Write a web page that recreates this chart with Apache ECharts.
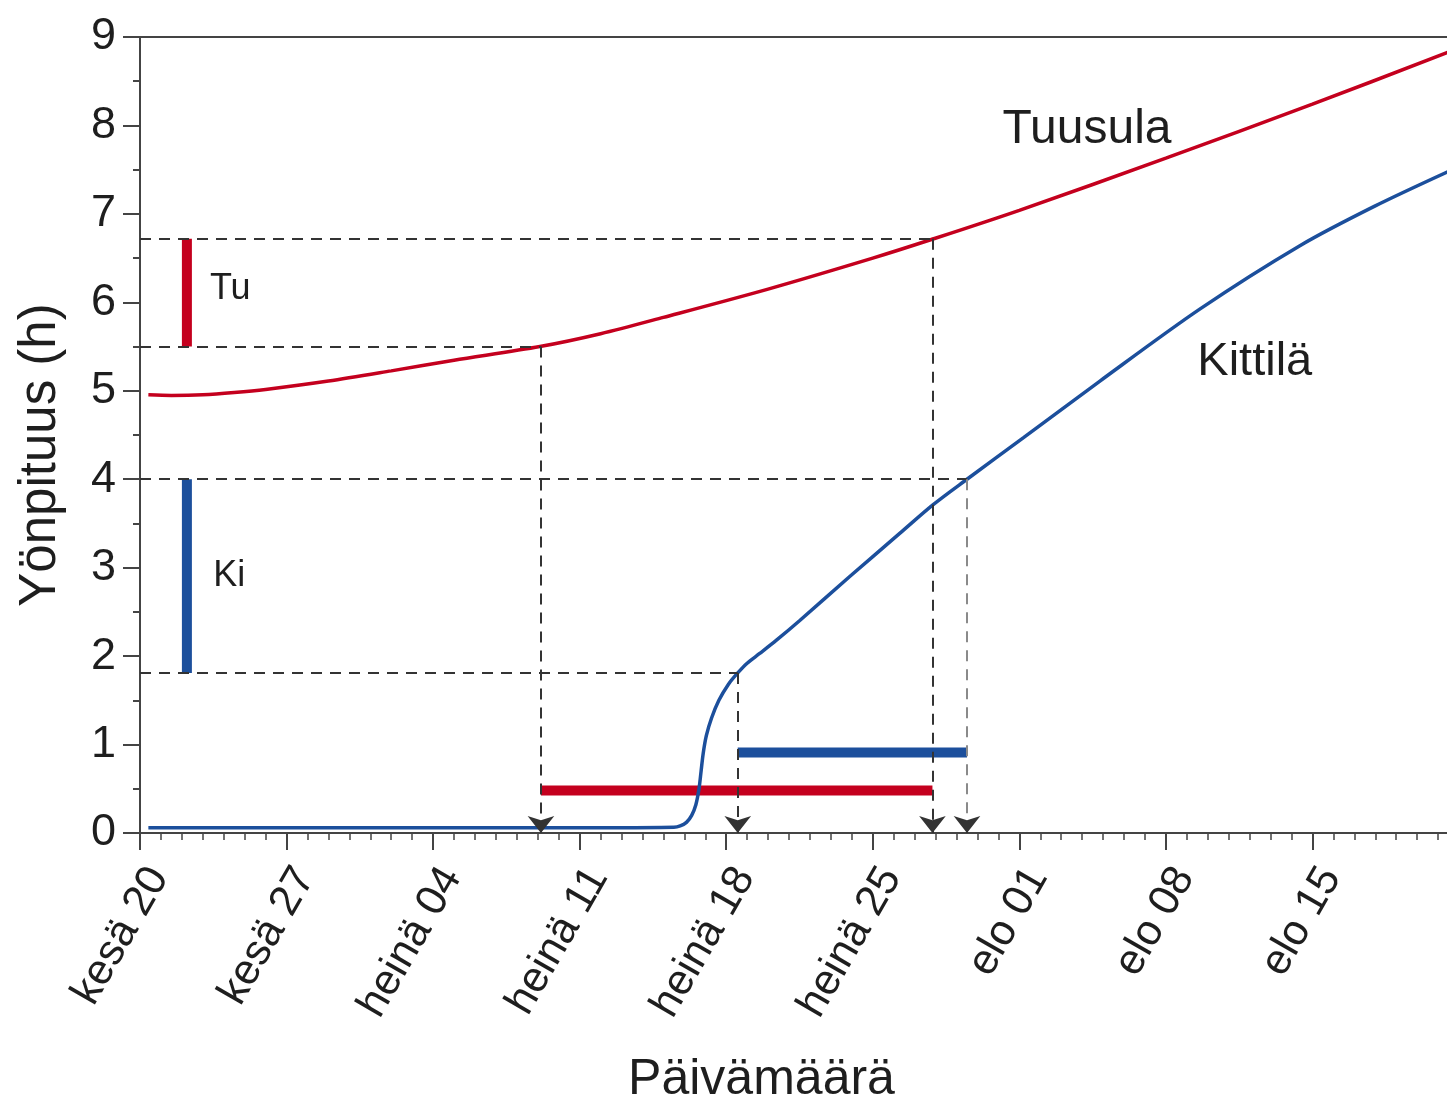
<!DOCTYPE html>
<html><head><meta charset="utf-8">
<script src="https://cdn.jsdelivr.net/npm/echarts@6/dist/echarts.min.js"></script>
<style>html,body{margin:0;padding:0;background:#fff}#c{width:1447px;height:1103px}</style>
</head><body><div id="c"></div>
<script>
// Days since 20 June (kesä 20 = 0)
const tickLabels = ['kesä 20','kesä 27','heinä 04','heinä 11','heinä 18','heinä 25','elo 01','elo 08','elo 15'];
const tuDays  = [0.4, 1.5, 3, 4.5, 6, 9, 12, 15, 19.1, 22, 25, 30, 35, 37.8, 42, 49, 56, 62.5];
const tuHours = [4.955, 4.948, 4.955, 4.98, 5.015, 5.11, 5.225, 5.345, 5.5, 5.645, 5.83, 6.15, 6.5, 6.71, 7.04, 7.63, 8.24, 8.83];
const kiDays  = [0.4, 7, 15, 22, 25.5, 25.8, 26.1, 26.35, 26.55, 26.7, 26.8, 26.9, 27.05, 27.3, 27.65, 28.1, 28.55, 29.0, 29.6, 30.4, 31.5, 33.9, 36.3, 37.87, 39.5, 42.2, 45.85, 50.6, 55.4, 59, 62.5];
const kiHours = [0.06, 0.06, 0.06, 0.06, 0.065, 0.08, 0.12, 0.2, 0.32, 0.5, 0.7, 0.9, 1.1, 1.3, 1.5, 1.68, 1.81, 1.92, 2.03, 2.18, 2.4, 2.9, 3.39, 3.71, 4.0, 4.47, 5.11, 5.92, 6.64, 7.09, 7.48];
const tuThreshold = [5.5, 6.72];   // h
const kiThreshold = [1.81, 4.0];   // h
const tuPeriod = [19.15, 37.85];   // days
const kiPeriod = [28.55, 39.5];    // days
const tuBarLevel = 0.48;
const kiBarLevel = 0.91;

const RED = '#c4001e', BLUE = '#1c4f9c', INK = '#1e1e1e', AX = '#444';
const FONT = '"Liberation Sans", Arial, Helvetica, sans-serif';
const zip = (a, b) => a.map((v, i) => [v, b[i]]);
const ruleX = 2.24;

const chart = echarts.init(document.getElementById('c'));
const dash = {type: [11, 8], color: '#333', width: 2};
const dashGray = {type: [11, 8], color: '#8a8a8a', width: 2};
const hLine = (y, x1) => [{coord: [0, y], symbol: 'none'}, {coord: [x1, y], symbol: 'none', lineStyle: dash}];
const vLine = (x, y) => [{coord: [x, y], symbol: 'none', lineStyle: dash},
                         {coord: [x, 0], symbol: 'arrow', symbolSize: [20, 17]}];
const vLineGray = (x, y) => [{coord: [x, y], symbol: 'none', lineStyle: dashGray},
                             {coord: [x, 0.1], symbol: 'none'}];
const arrowOnly = (x) => [{coord: [x, 0.12], symbol: 'none', lineStyle: dash},
                          {coord: [x, 0], symbol: 'arrow', symbolSize: [20, 17]}];

chart.setOption({
  animation: false,
  textStyle: {fontFamily: FONT},
  grid: {left: 140, top: 37, right: -12, bottom: 270, show: true, borderColor: AX, borderWidth: 2,
         backgroundColor: 'transparent', containLabel: false, outerBoundsMode: 'none'},
  xAxis: {
    type: 'value', min: 0, max: 63, interval: 7,
    axisLine: {show: true, onZero: false, lineStyle: {color: AX, width: 2}},
    axisTick: {show: true, length: 17, lineStyle: {color: AX, width: 2}},
    minorTick: {show: true, splitNumber: 7, length: 7, lineStyle: {color: AX, width: 1.5}},
    splitLine: {show: false}, minorSplitLine: {show: false},
    axisLabel: {rotate: 60, margin: 27, fontSize: 43, color: INK, fontFamily: FONT,
      verticalAlign: 'top', showMaxLabel: false,
      formatter: v => tickLabels[Math.round(v / 7)] || ''},
    name: 'Päivämäärä', nameLocation: 'middle', nameGap: 222,
    nameTextStyle: {fontSize: 50, color: INK, fontFamily: FONT, padding: [0, 76, 0, 0]}
  },
  yAxis: {
    type: 'value', min: 0, max: 9, interval: 1,
    axisLine: {show: true, lineStyle: {color: AX, width: 2}},
    axisTick: {show: true, length: 17, lineStyle: {color: AX, width: 2}},
    minorTick: {show: true, splitNumber: 2, length: 7, lineStyle: {color: AX, width: 2}},
    splitLine: {show: false}, minorSplitLine: {show: false},
    axisLabel: {fontSize: 45, margin: 24, color: INK, fontFamily: FONT},
    name: 'Yönpituus (h)', nameLocation: 'middle', nameGap: 74,
    nameTextStyle: {fontSize: 51, color: INK, fontFamily: FONT, padding: [0, 40, 0, 0]}
  },
  series: [
    {type: 'line', name: 'Tuusula', data: zip(tuDays, tuHours), smooth: 0.3, showSymbol: false, symbol: 'none',
     lineStyle: {color: RED, width: 3.5}, z: 4, clip: true},
    {type: 'line', name: 'Kittilä', data: zip(kiDays, kiHours), smooth: 0.3, showSymbol: false, symbol: 'none',
     lineStyle: {color: BLUE, width: 3.5}, z: 4, clip: true},
    {type: 'line', name: 'Tu jakso', data: [[tuPeriod[0], tuBarLevel], [tuPeriod[1], tuBarLevel]], symbol: 'none',
     lineStyle: {color: RED, width: 10, cap: 'butt'}, z: 3},
    {type: 'line', name: 'Ki jakso', data: [[kiPeriod[0], kiBarLevel], [kiPeriod[1], kiBarLevel]], symbol: 'none',
     lineStyle: {color: BLUE, width: 10, cap: 'butt'}, z: 3},
    {type: 'line', name: 'Tu raja', data: [[ruleX, tuThreshold[0]], [ruleX, tuThreshold[1]]], symbol: 'none',
     lineStyle: {color: RED, width: 10, cap: 'butt'}, z: 3},
    {type: 'line', name: 'Ki raja', data: [[ruleX, kiThreshold[0]], [ruleX, kiThreshold[1]]], symbol: 'none',
     lineStyle: {color: BLUE, width: 10, cap: 'butt'}, z: 3},
    {type: 'line', name: 'apuviivat', data: [], z: 2,
     markLine: {silent: true, animation: false, label: {show: false},
       lineStyle: dash, itemStyle: {color: '#222'},
       data: [
         hLine(tuThreshold[1], tuPeriod[1]),
         hLine(tuThreshold[0], tuPeriod[0]),
         hLine(kiThreshold[1], kiPeriod[1]),
         hLine(kiThreshold[0], kiPeriod[0]),
         vLine(tuPeriod[0], tuThreshold[0]),
         vLine(kiPeriod[0], kiThreshold[0]),
         vLine(tuPeriod[1], tuThreshold[1]),
         vLineGray(kiPeriod[1], kiThreshold[1]),
         arrowOnly(kiPeriod[1])
       ]}},
    {type: 'scatter', name: 'nimet', symbolSize: 0, z: 5, silent: true,
     itemStyle: {opacity: 1},
     label: {show: true, position: 'right', distance: 0, formatter: '{b}', color: INK, opacity: 1, fontFamily: FONT},
     data: [
       {name: 'Tuusula', value: [41.2, 7.95], label: {fontSize: 48}},
       {name: 'Kittilä', value: [50.5, 5.33], label: {fontSize: 47}},
       {name: 'Tu', value: [3.34, 6.15], label: {fontSize: 36}},
       {name: 'Ki', value: [3.5, 2.9], label: {fontSize: 36}}
     ]}
  ]
});
</script></body></html>
